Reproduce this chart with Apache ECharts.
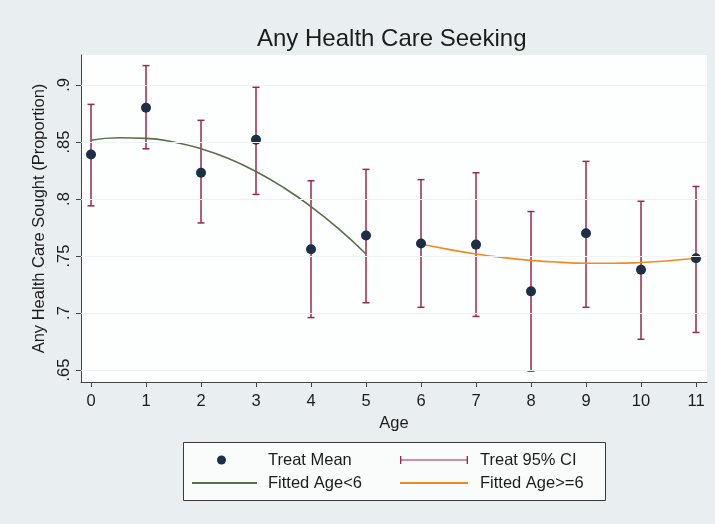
<!DOCTYPE html>
<html>
<head>
<meta charset="utf-8">
<script src="https://cdn.jsdelivr.net/npm/echarts@6/dist/echarts.min.js"></script>
<style>
html,body{margin:0;padding:0;background:#e9eff1;}
#chart{width:715px;height:524px;}
</style>
</head>
<body>
<div id="chart"></div>
<script>
// ---- data ----
const ages = [0, 1, 2, 3, 4, 5, 6, 7, 8, 9, 10, 11];
const means = [0.839, 0.880, 0.823, 0.852, 0.756, 0.768, 0.761, 0.760, 0.719, 0.770, 0.738, 0.748];
const ciLow = [0.794, 0.844, 0.779, 0.804, 0.696, 0.709, 0.705, 0.697, 0.649, 0.705, 0.677, 0.683];
const ciHigh = [0.883, 0.917, 0.869, 0.898, 0.816, 0.826, 0.817, 0.823, 0.789, 0.833, 0.798, 0.811];
const fitAgesLow = [0, 0.5, 1, 1.5, 2, 2.5, 3, 3.5, 4, 4.5, 5];
const fitLow = [0.8515, 0.8537, 0.8532, 0.8500, 0.8441, 0.8355, 0.8241, 0.8101, 0.7934, 0.7740, 0.7518];
const fitAgesHigh = [6, 6.5, 7, 7.5, 8, 8.5, 9, 9.5, 10, 10.5, 11];
const fitHigh = [0.7605, 0.7558, 0.7518, 0.7486, 0.7462, 0.7446, 0.7437, 0.7436, 0.7443, 0.7458, 0.7480];
const yTicks = [0.65, 0.7, 0.75, 0.8, 0.85, 0.9];
const xTicks = [0, 1, 2, 3, 4, 5, 6, 7, 8, 9, 10, 11];
const titleText = 'Any Health Care Seeking';
const yName = 'Any Health Care Sought (Proportion)';
const xName = 'Age';
const names = ['Treat Mean', 'Treat 95% CI', 'Fitted Age<6', 'Fitted Age>=6'];

// ---- styles ----
const FONT = '"Liberation Sans", Arial, Helvetica, sans-serif';
const TXT = '#1c1c1c';
const NAVY = '#1c3045';
const CRAN = '#982a4c';
const GREEN = '#5c6d4a';
const ORANGE = '#f08c1e';

const chart = echarts.init(document.getElementById('chart'), null, {renderer: 'canvas'});

const scatterData = ages.map((a, i) => [a, means[i]]);
const ciData = ages.map((a, i) => [a, ciLow[i], ciHigh[i]]);
const fitLowData = fitAgesLow.map((a, i) => [a, fitLow[i]]);
const fitHighData = fitAgesHigh.map((a, i) => [a, fitHigh[i]]);

function legendItem(name, left, top, w, h, icon, padLeft) {
  return {
    show: true, data: [name], left: left, top: top, padding: 0,
    orient: 'horizontal', itemWidth: w, itemHeight: h, icon: icon,
    symbolKeepAspect: false, selectedMode: false,
    textStyle: {fontFamily: FONT, fontSize: 16.5, color: TXT, lineHeight: 20, padding: [0, 0, 0, padLeft]}
  };
}

const option = {
  backgroundColor: '#e9eff1',
  animation: false,
  title: {
    text: titleText, left: 257, top: 27, padding: 0,
    textStyle: {fontFamily: FONT, fontSize: 24, fontWeight: 'normal', color: TXT}
  },
  graphic: [{
    type: 'rect', z: 0,
    shape: {x: 183.5, y: 442.5, width: 422, height: 58},
    style: {fill: '#fafcfc', stroke: '#3a3a3a', lineWidth: 1}
  }],
  legend: [
    legendItem(names[0], 217, 450, 9, 9, 'circle', 37),
    legendItem(names[1], 400, 450, 68, 8, 'path://M0,0h2v10h-2z M0,4.4h100v1.2h-100z M98,0h2v10h-2z', 7),
    legendItem(names[2], 192, 473, 65, 2, 'rect', 6),
    legendItem(names[3], 400, 473, 68, 2, 'rect', 7)
  ],
  grid: {left: 81, right: 8, top: 55, bottom: 142, show: true, backgroundColor: '#fdfefe', borderWidth: 0},
  xAxis: {
    type: 'value', min: -0.182, max: 11.2,
    name: xName, nameLocation: 'middle', nameGap: 33,
    nameTextStyle: {fontFamily: FONT, fontSize: 16.5, color: TXT},
    axisLine: {show: true, onZero: false, lineStyle: {color: '#444', width: 1}},
    axisTick: {show: true, inside: false, length: 5, customValues: xTicks, lineStyle: {color: '#444'}},
    axisLabel: {show: true, customValues: xTicks, margin: 11, fontFamily: FONT, fontSize: 16.5, color: TXT},
    splitLine: {show: false}
  },
  yAxis: {
    type: 'value', min: 0.6395, max: 0.9263,
    name: yName, nameLocation: 'middle', nameGap: 33, nameRotate: 90,
    nameTextStyle: {fontFamily: FONT, fontSize: 16.5, color: TXT},
    axisLine: {show: true, onZero: false, lineStyle: {color: '#444', width: 1}},
    axisTick: {show: true, inside: false, length: 5, customValues: yTicks, lineStyle: {color: '#444'}},
    axisLabel: {
      show: true, customValues: yTicks, rotate: 90, margin: 8,
      fontFamily: FONT, fontSize: 16.5, color: TXT,
      formatter: v => String(+(+v).toFixed(2)).replace(/^0/, '')
    },
    splitLine: {show: false}
  },
  series: [
    {
      name: names[1], type: 'custom', z: 2,
      itemStyle: {color: CRAN},
      encode: {x: 0, y: [1, 2]},
      data: ciData,
      renderItem: function (params, api) {
        const x = api.value(0);
        const lo = api.coord([x, api.value(1)]);
        const hi = api.coord([x, api.value(2)]);
        const cw = 3.5;
        const st = {stroke: CRAN, lineWidth: 1.5};
        return {
          type: 'group',
          children: [
            {type: 'line', shape: {x1: lo[0], y1: lo[1], x2: hi[0], y2: hi[1]}, style: st},
            {type: 'line', shape: {x1: hi[0] - cw, y1: hi[1], x2: hi[0] + cw, y2: hi[1]}, style: st},
            {type: 'line', shape: {x1: lo[0] - cw, y1: lo[1], x2: lo[0] + cw, y2: lo[1]}, style: st}
          ]
        };
      },
      markLine: {
        silent: true, symbol: 'none', label: {show: false},
        lineStyle: {color: '#eff2f2', width: 1, type: 'solid'},
        data: yTicks.map(v => ({yAxis: v}))
      }
    },
    {
      name: names[2], type: 'line', z: 3, smooth: true, showSymbol: false, symbol: 'none',
      data: fitLowData, itemStyle: {color: GREEN}, lineStyle: {color: GREEN, width: 1.6}
    },
    {
      name: names[3], type: 'line', z: 3, smooth: true, showSymbol: false, symbol: 'none',
      data: fitHighData, itemStyle: {color: ORANGE}, lineStyle: {color: ORANGE, width: 1.6}
    },
    {
      name: names[0], type: 'scatter', z: 4, symbol: 'circle', symbolSize: 10,
      data: scatterData, itemStyle: {color: NAVY, opacity: 1}
    }
  ]
};
chart.setOption(option);
</script>
</body>
</html>
